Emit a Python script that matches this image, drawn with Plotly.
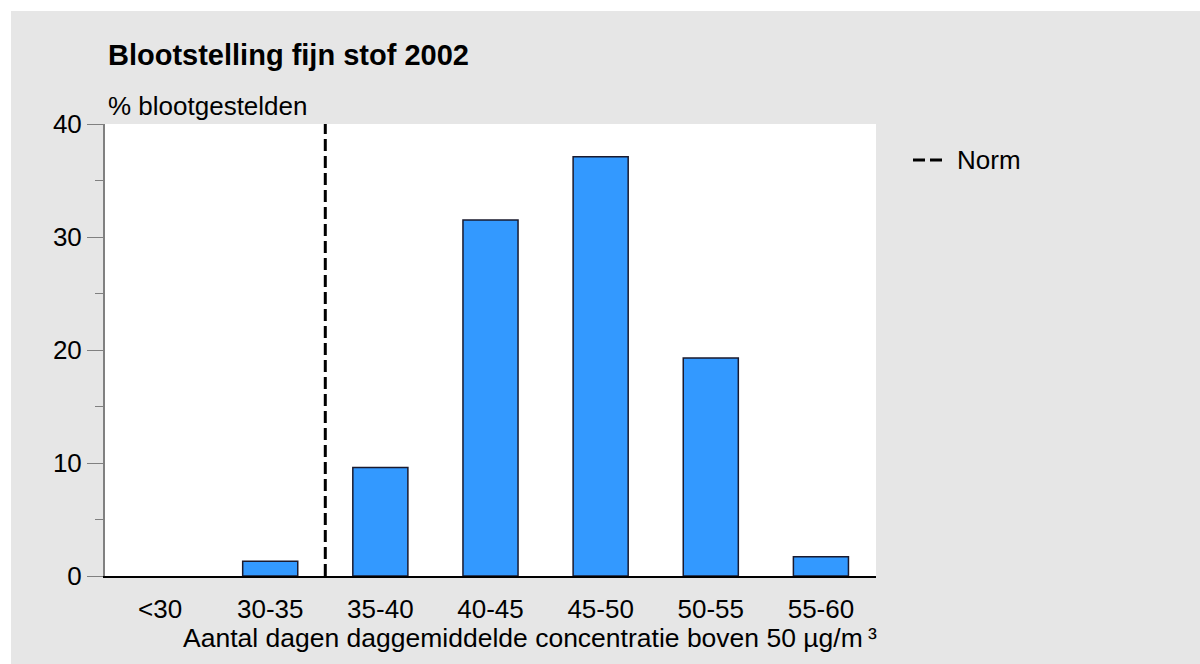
import plotly.graph_objects as go

# Exposure to fine particulate matter (PM10), 2002
categories = ["<30", "30-35", "35-40", "40-45", "45-50", "50-55", "55-60"]
exposed_pct = [0.0, 1.3, 9.6, 31.5, 37.1, 19.3, 1.7]
y_ticks = [0, 10, 20, 30, 40]
norm_bin = "35-40"  # norm: at most 35 days above 50 µg/m3 -> lower edge of this bin
norm_label = "Norm"

FONT = "Liberation Sans, Arial, Helvetica, sans-serif"
BG = "#e6e6e6"
BAR = "#3399ff"
NORM_DASH = "12px,5px"

W, H = 1200, 664
L, R, T, B = 105, 324, 124, 88

x_pos = list(range(len(categories)))
norm_x = categories.index(norm_bin) - 0.5
# empty bins get no bar at all (avoids a stray outline on the axis)
bar_heights = [v if v > 0 else None for v in exposed_pct]

fig = go.Figure()

fig.add_trace(go.Bar(
    x=x_pos, y=bar_heights, width=0.5,
    marker=dict(color=BAR, line=dict(color="#1a1a2e", width=1.5)),
    showlegend=False, hoverinfo="skip",
))

fig.add_trace(go.Scatter(
    x=[norm_x, norm_x], y=[y_ticks[0], y_ticks[-1]],
    mode="lines", name=norm_label, showlegend=False,
    line=dict(color="black", width=3, dash=NORM_DASH),
    hoverinfo="skip",
))

# paper coordinates for pixel positions
def px_x(p):
    return (p - L) / (W - L - R)

def px_y(p):
    return (H - B - p) / (H - T - B)

shapes = [
    # white border strips along top and left edge
    dict(type="rect", xref="paper", yref="paper", x0=px_x(0), x1=px_x(W),
         y0=px_y(11), y1=px_y(0), fillcolor="white", line=dict(width=0), layer="below"),
    dict(type="rect", xref="paper", yref="paper", x0=px_x(0), x1=px_x(11),
         y0=px_y(H), y1=px_y(0), fillcolor="white", line=dict(width=0), layer="below"),
    # legend key for the norm line
    dict(type="line", xref="paper", yref="paper", x0=px_x(913), x1=px_x(943),
         y0=px_y(160), y1=px_y(160), line=dict(color="black", width=3, dash=NORM_DASH)),
]

annotations = [
    dict(text="<b>Blootstelling fijn stof 2002</b>", xref="paper", yref="paper",
         x=px_x(106), y=px_y(73), xanchor="left", yanchor="bottom", showarrow=False,
         font=dict(family=FONT, size=29, color="black")),
    dict(text="% blootgestelden", xref="paper", yref="paper",
         x=px_x(106), y=px_y(123), xanchor="left", yanchor="bottom", showarrow=False,
         font=dict(family=FONT, size=26, color="black")),
    dict(text="Aantal dagen daggemiddelde concentratie boven 50 µg/m\u2009³",
         xref="paper", yref="paper",
         x=px_x(530), y=px_y(655), xanchor="center", yanchor="bottom", showarrow=False,
         font=dict(family=FONT, size=26.5, color="black")),
    dict(text=norm_label, xref="paper", yref="paper",
         x=px_x(955), y=px_y(160), xanchor="left", yanchor="middle", showarrow=False,
         font=dict(family=FONT, size=26, color="black")),
]

fig.update_layout(
    width=W, height=H,
    margin=dict(l=L, r=R, t=T, b=B, pad=0),
    paper_bgcolor=BG, plot_bgcolor="white",
    font=dict(family=FONT, size=26, color="black"),
    shapes=shapes, annotations=annotations,
    showlegend=False,
    xaxis=dict(
        range=[-0.5, len(categories) - 0.5], tickmode="array",
        tickvals=x_pos, ticktext=categories,
        showline=True, linecolor="black", linewidth=2,
        showgrid=False, zeroline=False,
        ticks="outside", ticklen=9, tickcolor="rgba(0,0,0,0)",
        tickfont=dict(family=FONT, size=26, color="black"),
    ),
    yaxis=dict(
        range=[0, 40], tickmode="array", tickvals=y_ticks,
        showline=True, linecolor="#808080", linewidth=2,
        showgrid=False, zeroline=False,
        ticks="outside", ticklen=16, tickwidth=1, tickcolor="#808080",
        minor=dict(dtick=5, ticks="outside", ticklen=8, tickwidth=1, tickcolor="#808080"),
        tickfont=dict(family=FONT, size=26, color="black"),
    ),
)

fig.write_html("out.html")
